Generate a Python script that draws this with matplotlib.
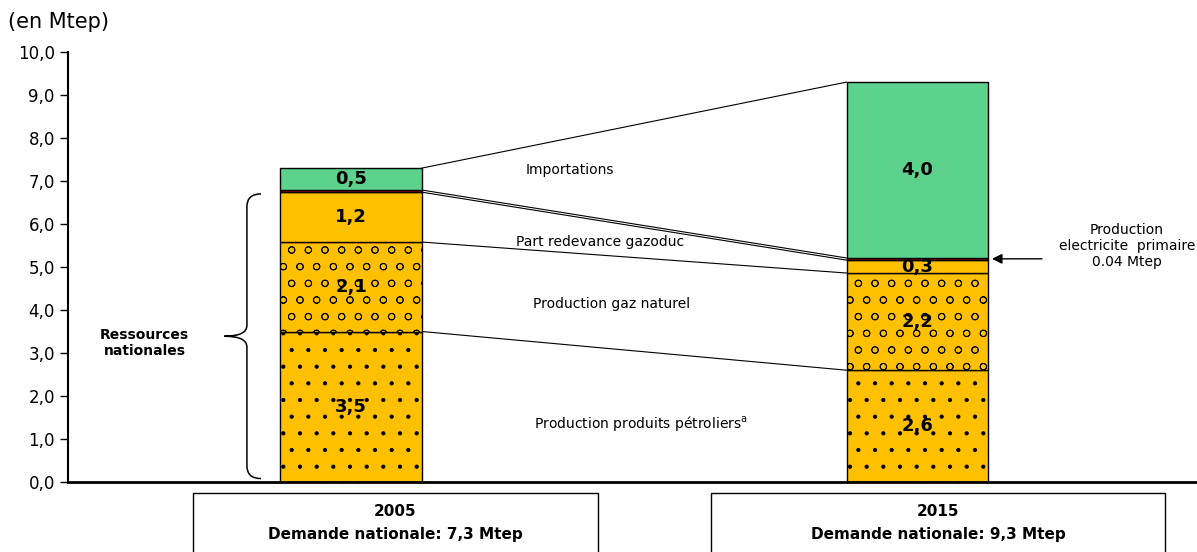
import matplotlib.pyplot as plt
from matplotlib.patches import Rectangle, PathPatch
from matplotlib.path import Path

# Données (en Mtep)
annees = ["2005", "2015"]
demande = ["7,3", "9,3"]
petrole = [3.5, 2.6]
gaz = [2.08, 2.26]
redevance = [1.16, 0.30]
electricite = [0.05, 0.05]
importations = [0.51, 4.09]
etiquettes_petrole = ["3,5", "2,6"]
etiquettes_gaz = ["2,1", "2,2"]
etiquettes_redevance = ["1,2", "0,3"]
etiquettes_import = ["0,5", "4,0"]
yticks = [0, 1, 2, 3, 4, 5, 6, 7, 8, 9, 10]

orange = "#FFC000"
vert = "#5CD28C"
rouge = "#B01010"

plt.rcParams["hatch.linewidth"] = 0.6

fig = plt.figure(figsize=(11.97, 5.52), dpi=100)
ax = fig.add_axes([0.0568, 0.1268, 0.9432, 0.779])

x = [0, 1]
w = 0.25
couches = [
    (petrole, orange, "."),
    (gaz, orange, "o"),
    (redevance, orange, None),
    (electricite, rouge, None),
    (importations, vert, None),
]
bas = [0.0, 0.0]
sommets = []
for vals, col, hatch in couches:
    ax.bar(x, vals, w, bottom=bas, color=col, edgecolor="black", linewidth=1,
           hatch=hatch, zorder=2)
    bas = [b + v for b, v in zip(bas, vals)]
    sommets.append(list(bas))

# étiquettes des segments
bas = [0.0, 0.0]
for vals, labs in [(petrole, etiquettes_petrole), (gaz, etiquettes_gaz),
                   (redevance, etiquettes_redevance)]:
    for i in range(2):
        ax.text(x[i], bas[i] + vals[i] / 2, labs[i], ha="center", va="center",
                fontsize=13, fontweight="bold", zorder=4)
    bas = [b + v for b, v in zip(bas, vals)]
bas = [b + e for b, e in zip(bas, electricite)]
for i in range(2):
    ax.text(x[i], bas[i] + importations[i] / 2, etiquettes_import[i],
            ha="center", va="center", fontsize=13, fontweight="bold", zorder=4)

# lignes de liaison
for s in sommets:
    ax.plot([x[0] + w / 2, x[1] - w / 2], [s[0], s[1]], color="black",
            linewidth=0.8, zorder=1)

ax.text(0.386, 7.26, "Importations", ha="center", va="center", fontsize=10)
ax.text(0.439, 5.58, "Part redevance gazoduc", ha="center", va="center", fontsize=10)
ax.text(0.46, 4.14, "Production gaz naturel", ha="center", va="center", fontsize=10)
ax.text(0.511, 1.37, "Production produits pétroliers$^{\\rm a}$", ha="center",
        va="center", fontsize=10)

ax.text(1.37, 5.49, "Production\nelectricite  primaire\n0.04 Mtep", ha="center",
        va="center", fontsize=10, linespacing=1.15)
ax.annotate("", xy=(x[1] + w / 2 + 0.002, sommets[3][1] - 0.02),
            xytext=(1.225, sommets[3][1] - 0.02),
            arrowprops=dict(arrowstyle="-|>", color="black", lw=1, mutation_scale=15))

# accolade
bx, tip, y0, y1 = -0.184, -0.224, 0.08, 6.7
ym = (y0 + y1) / 2
c = 0.025
verts = [(bx + c, y1), (bx, y1), (bx, y1 - 0.3),
         (bx, ym + 0.25), (bx, ym), (tip, ym),
         (bx, ym), (bx, ym - 0.25),
         (bx, y0 + 0.3), (bx, y0), (bx + c, y0)]
codes = [Path.MOVETO, Path.CURVE3, Path.CURVE3,
         Path.LINETO, Path.CURVE3, Path.CURVE3,
         Path.CURVE3, Path.CURVE3,
         Path.LINETO, Path.CURVE3, Path.CURVE3]
ax.add_patch(PathPatch(Path(verts, codes), fill=False, lw=1.1, clip_on=False))
ax.text(-0.365, 3.23, "Ressources\nnationales", ha="center", va="center",
        fontsize=10, fontweight="bold")

ax.set_xlim(-0.5, 1.494)
ax.set_ylim(0, 10)
ax.set_yticks(yticks)
ax.set_yticklabels([f"{v:.1f}".replace(".", ",") for v in yticks], fontsize=12)
ax.set_xticks([])
ax.tick_params(axis="y", direction="out", length=6, width=1)
ax.spines["top"].set_visible(False)
ax.spines["right"].set_visible(False)
ax.spines["left"].set_linewidth(1.5)
ax.spines["bottom"].set_linewidth(2)

fig.text(8 / 1197, 1 - 22 / 552, "(en Mtep)", ha="left", va="center", fontsize=15)

# boîtes des années
boites = [(193, 598), (711, 1165)]
for (gx, dx), an, dm in zip(boites, annees, demande):
    fig.patches.append(Rectangle((gx / 1197, -0.05), (dx - gx) / 1197,
                                 (552 - 493) / 552 + 0.05, transform=fig.transFigure,
                                 fill=False, edgecolor="black", lw=1))
    cx = (gx + dx) / 2 / 1197
    fig.text(cx, 1 - 512 / 552, an, ha="center", va="center", fontsize=11,
             fontweight="bold")
    fig.text(cx, 1 - 535 / 552, f"Demande nationale: {dm} Mtep", ha="center",
             va="center", fontsize=11, fontweight="bold")

fig.savefig("out.png", dpi=100)
